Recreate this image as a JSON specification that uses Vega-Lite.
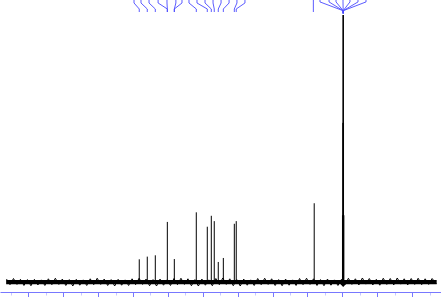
{
  "$schema": "https://vega.github.io/schema/vega-lite/v6.json",
  "width": 441,
  "height": 292,
  "autosize": "none",
  "padding": {"top": 0, "left": 0, "right": 0, "bottom": 5},
  "background": "white",
  "config": {"view": {"stroke": null}},
  "datasets": {
    "base": [
      {"ppm": 232.7, "lo": -0.85, "hi": 0.75},
      {"ppm": 41, "lo": -0.85, "hi": 0.75},
      {"ppm": 39.5, "lo": -1.9, "hi": 0.75},
      {"ppm": 38, "lo": -0.85, "hi": 0.75},
      {"ppm": -14.1, "lo": -0.85, "hi": 0.75}
    ],
    "noise": [
      {"ppm": 232.5, "n": 1.1}, {"ppm": 230.5, "n": -1.0}, {"ppm": 228.5, "n": 1.3}, {"ppm": 226.5, "n": -0.9},
      {"ppm": 224.5, "n": 1.0}, {"ppm": 222.5, "n": -1.3}, {"ppm": 220.5, "n": 0.9}, {"ppm": 218.5, "n": -1.4},
      {"ppm": 216.5, "n": 1.0}, {"ppm": 214.5, "n": -1.1}, {"ppm": 212.5, "n": 0.8}, {"ppm": 210.5, "n": -1.3},
      {"ppm": 208.5, "n": 1.2}, {"ppm": 206.5, "n": -1.0}, {"ppm": 204.5, "n": 1.4}, {"ppm": 202.5, "n": -0.9},
      {"ppm": 200.5, "n": 1.1}, {"ppm": 198.5, "n": -1.3}, {"ppm": 196.5, "n": 0.9}, {"ppm": 194.5, "n": -1.5},
      {"ppm": 192.5, "n": 1.0}, {"ppm": 190.5, "n": -1.2}, {"ppm": 188.5, "n": 0.8}, {"ppm": 186.5, "n": -1.3},
      {"ppm": 184.5, "n": 1.2}, {"ppm": 182.5, "n": -1.0}, {"ppm": 180.5, "n": 1.4}, {"ppm": 178.5, "n": -0.9},
      {"ppm": 176.5, "n": 1.1}, {"ppm": 174.5, "n": -1.3}, {"ppm": 172.5, "n": 0.9}, {"ppm": 170.5, "n": -1.5},
      {"ppm": 168.5, "n": 1.0}, {"ppm": 166.5, "n": -1.2}, {"ppm": 164.5, "n": 0.8}, {"ppm": 162.5, "n": -1.3},
      {"ppm": 160.5, "n": 1.2}, {"ppm": 158.5, "n": -1.0}, {"ppm": 156.5, "n": 1.4}, {"ppm": 154.5, "n": -0.9},
      {"ppm": 152.5, "n": 1.1}, {"ppm": 150.5, "n": -1.4}, {"ppm": 148.5, "n": 0.9}, {"ppm": 146.5, "n": -1.5},
      {"ppm": 144.5, "n": 1.1}, {"ppm": 142.5, "n": -1.2}, {"ppm": 140.5, "n": 0.8}, {"ppm": 138.5, "n": -1.3},
      {"ppm": 136.5, "n": 1.3}, {"ppm": 134.5, "n": -1.0}, {"ppm": 132.5, "n": 1.4}, {"ppm": 130.5, "n": -0.9},
      {"ppm": 128.5, "n": 1.2}, {"ppm": 126.5, "n": -1.4}, {"ppm": 124.5, "n": 0.9}, {"ppm": 122.5, "n": -1.5},
      {"ppm": 120.5, "n": 1.1}, {"ppm": 118.5, "n": -1.2}, {"ppm": 116.5, "n": 0.8}, {"ppm": 114.5, "n": -1.4},
      {"ppm": 112.5, "n": 1.3}, {"ppm": 110.5, "n": -1.0}, {"ppm": 108.5, "n": 1.5}, {"ppm": 106.5, "n": -0.9},
      {"ppm": 104.5, "n": 1.2}, {"ppm": 102.5, "n": -1.4}, {"ppm": 100.5, "n": 0.9}, {"ppm": 98.5, "n": -1.5},
      {"ppm": 96.5, "n": 1.1}, {"ppm": 94.5, "n": -1.2}, {"ppm": 92.5, "n": 0.8}, {"ppm": 90.5, "n": -1.3},
      {"ppm": 88.5, "n": 1.3}, {"ppm": 86.5, "n": -1.0}, {"ppm": 84.5, "n": 1.4}, {"ppm": 82.5, "n": -0.9},
      {"ppm": 80.5, "n": 1.2}, {"ppm": 78.5, "n": -1.3}, {"ppm": 76.5, "n": 0.9}, {"ppm": 74.5, "n": -1.4},
      {"ppm": 72.5, "n": 1.1}, {"ppm": 70.5, "n": -1.2}, {"ppm": 68.5, "n": 0.8}, {"ppm": 66.5, "n": -1.3},
      {"ppm": 64.5, "n": 1.3}, {"ppm": 62.5, "n": -1.0}, {"ppm": 60.5, "n": 1.4}, {"ppm": 58.5, "n": -0.9},
      {"ppm": 56.5, "n": 1.2}, {"ppm": 54.5, "n": -1.3}, {"ppm": 52.5, "n": 0.9}, {"ppm": 50.5, "n": -1.4},
      {"ppm": 48.5, "n": 1.1}, {"ppm": 46.5, "n": -1.2}, {"ppm": 44.5, "n": 0.8}, {"ppm": 42.5, "n": -1.3},
      {"ppm": 40.5, "n": 1.0}, {"ppm": 38.5, "n": -1.0}, {"ppm": 36.5, "n": 1.4}, {"ppm": 34.5, "n": -0.9},
      {"ppm": 32.5, "n": 1.2}, {"ppm": 30.5, "n": -1.1}, {"ppm": 28.5, "n": 1.5}, {"ppm": 26.5, "n": -0.8},
      {"ppm": 24.5, "n": 1.3}, {"ppm": 22.5, "n": -1.1}, {"ppm": 20.5, "n": 1.0}, {"ppm": 18.5, "n": -1.2},
      {"ppm": 16.5, "n": 1.4}, {"ppm": 14.5, "n": -0.9}, {"ppm": 12.5, "n": 1.3}, {"ppm": 10.5, "n": -1.1},
      {"ppm": 8.5, "n": 1.5}, {"ppm": 6.5, "n": -0.8}, {"ppm": 4.5, "n": 1.2}, {"ppm": 2.5, "n": -1.1},
      {"ppm": 0.5, "n": 1.3}, {"ppm": -1.5, "n": -0.9}, {"ppm": -3.5, "n": 1.4}, {"ppm": -5.5, "n": -1.0},
      {"ppm": -7.5, "n": 1.2}, {"ppm": -9.5, "n": -0.9}, {"ppm": -11.5, "n": 1.3}, {"ppm": -13.9, "n": -0.7}
    ],
    "peaks": [
      {"ppm": 156.4, "h": 8.5, "w": 1},
      {"ppm": 151.8, "h": 9.5, "w": 1},
      {"ppm": 147.2, "h": 10.0, "w": 1},
      {"ppm": 140.3, "h": 22.5, "w": 1},
      {"ppm": 136.3, "h": 8.6, "w": 1},
      {"ppm": 123.7, "h": 26.1, "w": 1},
      {"ppm": 117.4, "h": 20.7, "w": 1},
      {"ppm": 115.1, "h": 24.8, "w": 1},
      {"ppm": 113.4, "h": 22.8, "w": 1},
      {"ppm": 111.1, "h": 7.5, "w": 1},
      {"ppm": 108.2, "h": 9.0, "w": 1},
      {"ppm": 101.9, "h": 21.8, "w": 1},
      {"ppm": 100.8, "h": 22.8, "w": 1},
      {"ppm": 56.1, "h": 29.5, "w": 1},
      {"ppm": 39.9, "h": 25, "w": 1},
      {"ppm": 39.7, "h": 59.6, "w": 1},
      {"ppm": 39.5, "h": 100, "w": 1.6},
      {"ppm": 39.3, "h": 59.6, "w": 1},
      {"ppm": 39.1, "h": 25, "w": 1}
    ],
    "labels": [
      {"id": "a1", "s": 1, "ppm": 159.4, "v": 105.62}, {"id": "a1", "s": 2, "ppm": 159.4, "v": 104.5}, {"id": "a1", "s": 3, "ppm": 156.4, "v": 102.25}, {"id": "a1", "s": 4, "ppm": 156.4, "v": 101.12},
      {"id": "a2", "s": 1, "ppm": 155.4, "v": 105.62}, {"id": "a2", "s": 2, "ppm": 155.4, "v": 104.5}, {"id": "a2", "s": 3, "ppm": 151.8, "v": 102.25}, {"id": "a2", "s": 4, "ppm": 151.8, "v": 101.12},
      {"id": "a3", "s": 1, "ppm": 150.8, "v": 105.62}, {"id": "a3", "s": 2, "ppm": 150.8, "v": 104.5}, {"id": "a3", "s": 3, "ppm": 147.2, "v": 102.25}, {"id": "a3", "s": 4, "ppm": 147.2, "v": 101.12},
      {"id": "a4", "s": 1, "ppm": 145.6, "v": 105.62}, {"id": "a4", "s": 2, "ppm": 145.6, "v": 104.5}, {"id": "a4", "s": 3, "ppm": 140.3, "v": 102.25}, {"id": "a4", "s": 4, "ppm": 140.3, "v": 101.12},
      {"id": "a5", "s": 1, "ppm": 140.5, "v": 105.62}, {"id": "a5", "s": 2, "ppm": 140.5, "v": 104.5}, {"id": "a5", "s": 3, "ppm": 140.3, "v": 102.25}, {"id": "a5", "s": 4, "ppm": 140.3, "v": 101.12},
      {"id": "a6", "s": 1, "ppm": 135.4, "v": 105.62}, {"id": "a6", "s": 2, "ppm": 135.4, "v": 104.5}, {"id": "a6", "s": 3, "ppm": 136.3, "v": 102.25}, {"id": "a6", "s": 4, "ppm": 136.3, "v": 101.12},
      {"id": "a7", "s": 1, "ppm": 131.9, "v": 105.62}, {"id": "a7", "s": 2, "ppm": 131.9, "v": 104.5}, {"id": "a7", "s": 3, "ppm": 136.3, "v": 102.25}, {"id": "a7", "s": 4, "ppm": 136.3, "v": 101.12},
      {"id": "b1", "s": 1, "ppm": 127.9, "v": 105.62}, {"id": "b1", "s": 2, "ppm": 127.9, "v": 104.5}, {"id": "b1", "s": 3, "ppm": 123.7, "v": 102.25}, {"id": "b1", "s": 4, "ppm": 123.7, "v": 101.12},
      {"id": "b2", "s": 1, "ppm": 123.3, "v": 105.62}, {"id": "b2", "s": 2, "ppm": 123.3, "v": 104.5}, {"id": "b2", "s": 3, "ppm": 117.4, "v": 102.25}, {"id": "b2", "s": 4, "ppm": 117.4, "v": 101.12},
      {"id": "b3", "s": 1, "ppm": 118.7, "v": 105.62}, {"id": "b3", "s": 2, "ppm": 118.7, "v": 104.5}, {"id": "b3", "s": 3, "ppm": 115.1, "v": 102.25}, {"id": "b3", "s": 4, "ppm": 115.1, "v": 101.12},
      {"id": "b4", "s": 1, "ppm": 114.1, "v": 105.62}, {"id": "b4", "s": 2, "ppm": 114.1, "v": 104.5}, {"id": "b4", "s": 3, "ppm": 113.4, "v": 102.25}, {"id": "b4", "s": 4, "ppm": 113.4, "v": 101.12},
      {"id": "b5", "s": 1, "ppm": 109.5, "v": 105.62}, {"id": "b5", "s": 2, "ppm": 109.5, "v": 104.5}, {"id": "b5", "s": 3, "ppm": 111.1, "v": 102.25}, {"id": "b5", "s": 4, "ppm": 111.1, "v": 101.12},
      {"id": "b6", "s": 1, "ppm": 104.9, "v": 105.62}, {"id": "b6", "s": 2, "ppm": 104.9, "v": 104.5}, {"id": "b6", "s": 3, "ppm": 108.2, "v": 102.25}, {"id": "b6", "s": 4, "ppm": 108.2, "v": 101.12},
      {"id": "b7", "s": 1, "ppm": 100.4, "v": 105.62}, {"id": "b7", "s": 2, "ppm": 100.4, "v": 104.5}, {"id": "b7", "s": 3, "ppm": 101.9, "v": 102.25}, {"id": "b7", "s": 4, "ppm": 101.9, "v": 101.12},
      {"id": "b8", "s": 1, "ppm": 95.8, "v": 105.62}, {"id": "b8", "s": 2, "ppm": 95.8, "v": 104.5}, {"id": "b8", "s": 3, "ppm": 100.8, "v": 102.25}, {"id": "b8", "s": 4, "ppm": 100.8, "v": 101.12},
      {"id": "c1", "s": 1, "ppm": 56.6, "v": 105.62}, {"id": "c1", "s": 2, "ppm": 56.6, "v": 104.5}, {"id": "c1", "s": 3, "ppm": 56.6, "v": 102.25}, {"id": "c1", "s": 4, "ppm": 56.6, "v": 101.12},
      {"id": "d1", "s": 1, "ppm": 52.8, "v": 105.62}, {"id": "d1", "s": 2, "ppm": 52.8, "v": 104.9}, {"id": "d1", "s": 3, "ppm": 39.5, "v": 101.6}, {"id": "d1", "s": 4, "ppm": 39.5, "v": 100.6},
      {"id": "d2", "s": 1, "ppm": 47.6, "v": 105.62}, {"id": "d2", "s": 2, "ppm": 47.6, "v": 104.9}, {"id": "d2", "s": 3, "ppm": 39.5, "v": 101.6}, {"id": "d2", "s": 4, "ppm": 39.5, "v": 100.6},
      {"id": "d3", "s": 1, "ppm": 43.6, "v": 105.62}, {"id": "d3", "s": 2, "ppm": 43.6, "v": 104.9}, {"id": "d3", "s": 3, "ppm": 39.5, "v": 101.6}, {"id": "d3", "s": 4, "ppm": 39.5, "v": 100.6},
      {"id": "d4", "s": 1, "ppm": 39.6, "v": 105.62}, {"id": "d4", "s": 2, "ppm": 39.6, "v": 104.9}, {"id": "d4", "s": 3, "ppm": 39.5, "v": 101.6}, {"id": "d4", "s": 4, "ppm": 39.5, "v": 100.6},
      {"id": "d5", "s": 1, "ppm": 35.6, "v": 105.62}, {"id": "d5", "s": 2, "ppm": 35.6, "v": 104.9}, {"id": "d5", "s": 3, "ppm": 39.5, "v": 101.6}, {"id": "d5", "s": 4, "ppm": 39.5, "v": 100.6},
      {"id": "d6", "s": 1, "ppm": 31.0, "v": 105.62}, {"id": "d6", "s": 2, "ppm": 31.0, "v": 104.9}, {"id": "d6", "s": 3, "ppm": 39.5, "v": 101.6}, {"id": "d6", "s": 4, "ppm": 39.5, "v": 100.6},
      {"id": "d7", "s": 1, "ppm": 26.4, "v": 105.62}, {"id": "d7", "s": 2, "ppm": 26.4, "v": 104.9}, {"id": "d7", "s": 3, "ppm": 39.5, "v": 101.6}, {"id": "d7", "s": 4, "ppm": 39.5, "v": 100.6}
    ]
  },
  "encoding": {
    "x": {
      "field": "ppm",
      "type": "quantitative",
      "scale": {"domain": [236.23, -16.58], "nice": false, "zero": false},
      "axis": {
        "values": [230, 220, 210, 200, 190, 180, 170, 160, 150, 140, 130, 120, 110, 100, 90, 80, 70, 60, 50, 40, 30, 20, 10, 0, -10],
        "labels": false,
        "title": null,
        "grid": false,
        "domainColor": "#7878ff",
        "domainWidth": 1,
        "tickColor": {"condition": {"test": "datum.value % 20 === 0", "value": "#7878ff"}, "value": "#c8c8ff"},
        "tickSize": {"condition": {"test": "datum.value % 20 === 0", "value": 6}, "value": 3},
        "tickWidth": 1
      }
    }
  },
  "layer": [
    {
      "data": {"name": "base"},
      "mark": {"type": "area", "color": "black", "interpolate": "linear"},
      "encoding": {
        "y": {"field": "lo", "type": "quantitative", "scale": {"domain": [-3.745, 105.62], "nice": false, "zero": false}, "axis": null},
        "y2": {"field": "hi"}
      }
    },
    {
      "data": {"name": "noise"},
      "mark": {"type": "line", "color": "black", "strokeWidth": 1},
      "encoding": {
        "y": {"field": "n", "type": "quantitative", "scale": {"domain": [-3.745, 105.62], "nice": false, "zero": false}, "axis": null}
      }
    },
    {
      "data": {"name": "peaks"},
      "mark": {"type": "rule", "color": "black"},
      "encoding": {
        "y": {"field": "h", "type": "quantitative", "scale": {"domain": [-3.745, 105.62], "nice": false, "zero": false}, "axis": null},
        "y2": {"datum": 0},
        "strokeWidth": {"field": "w", "type": "quantitative", "scale": null}
      }
    },
    {
      "data": {"name": "labels"},
      "mark": {"type": "line", "color": "#4a4aff", "strokeWidth": 0.9},
      "encoding": {
        "y": {"field": "v", "type": "quantitative", "scale": {"domain": [-3.745, 105.62], "nice": false, "zero": false}, "axis": null},
        "detail": {"field": "id"},
        "order": {"field": "s"}
      }
    }
  ]
}
